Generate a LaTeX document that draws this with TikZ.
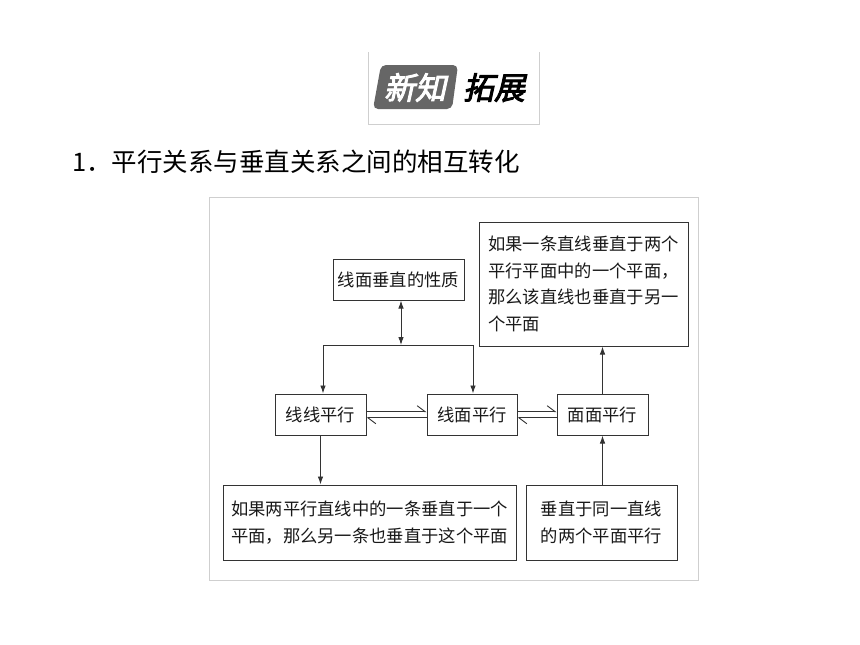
\documentclass[tikz,border=0pt]{standalone}
\usepackage{fontspec}
\usetikzlibrary{arrows.meta}
\newfontfamily\cjk{Noto Sans CJK SC}
\newfontfamily\badgefont[FakeSlant=0.22,FakeBold=3]{Noto Sans CJK SC}
\definecolor{linec}{HTML}{333333}
\definecolor{framec}{HTML}{CFCFCF}
\definecolor{badgec}{HTML}{666666}
\tikzset{
  box/.style={draw=linec, line width=1pt, inner sep=0pt, text=black!90,
    font=\cjk\fontsize{17.3}{26.5}\selectfont},
  conn/.style={draw=linec, line width=0.9pt},
  tip/.style={-{Latex[length=8pt,width=5.5pt]}},
  harp/.style={-{Straight Barb[left,length=8pt,width=12pt]}},
}
\begin{document}
\begin{tikzpicture}[x=1pt,y=-1pt]
\useasboundingbox (0,0) rectangle (860,645);
\fill[white] (0,0) rectangle (860,645);
% header badge
\draw[framec, line width=1pt] (368,52) -- (368,124) -- (539,124) -- (539,52);
\fill[badgec, rounded corners=5pt] (381,65) -- (458,65) -- (452,109) -- (373,109) -- cycle;
\node[text=white, font=\badgefont\fontsize{31}{31}\selectfont] (xz) at (415,87.5) {新知};
\node[text=black, font=\badgefont\fontsize{31}{31}\selectfont] (tz) at (494,87.5) {拓展};
% title
\node[anchor=west, inner sep=0pt, font=\cjk\fontsize{25.5}{25.5}\selectfont] (title) at (72,162) {1．平行关系与垂直关系之间的相互转化};
% diagram frame
\draw[framec, line width=1pt] (209,197) rectangle (698,580);
% boxes
\node[box, minimum width=131pt, minimum height=41pt] (prop) at (398.5,279.5) {线面垂直的性质};
\node[box, minimum width=91pt, minimum height=41pt] (ll) at (320.5,414.5) {线线平行};
\node[box, minimum width=90pt, minimum height=41pt] (lm) at (472,414.5) {线面平行};
\node[box, minimum width=91pt, minimum height=41pt] (mm) at (602.5,414.5) {面面平行};
\node[box, minimum width=209pt, minimum height=124pt, align=left] (tr) at (583.5,284)
  {如果一条直线垂直于两个\\平行平面中的一个平面，\\那么该直线也垂直于另一\\个平面};
\node[box, minimum width=293pt, minimum height=75pt, align=left] (bl) at (369.5,522.5)
  {如果两平行直线中的一条垂直于一个\\平面，那么另一条也垂直于这个平面};
\node[box, minimum width=151pt, minimum height=75pt, align=center] (br) at (601.5,522.5)
  {垂直于同一直线\\的两个平面平行};
% connectors
\coordinate (j) at (401,345);
\coordinate (jl) at (323,345);
\coordinate (jr) at (473,345);
\draw[conn] (jl) -- (jr);
\draw[conn, {Latex[length=8pt,width=5.5pt]}-{Latex[length=8pt,width=5.5pt]}] (prop.south -| j) -- (j);
\draw[conn, tip] (jl) -- (jl |- ll.north);
\draw[conn, tip] (jr) -- (jr |- lm.north);
\draw[conn, tip] (ll.south) -- (ll.south |- bl.north);
\draw[conn, tip] (mm.south |- br.north) -- (mm.south);
\draw[conn, tip] (mm.north) -- (mm.north |- tr.south);
\draw[conn, harp] ([yshift=2.8pt]ll.east) -- ([yshift=2.8pt]lm.west);
\draw[conn, harp] ([yshift=-3.2pt]lm.west) -- ([yshift=-3.2pt]ll.east);
\draw[conn, harp] ([yshift=2.8pt]lm.east) -- ([yshift=2.8pt]mm.west);
\draw[conn, harp] ([yshift=-3.2pt]mm.west) -- ([yshift=-3.2pt]lm.east);
\end{tikzpicture}
\end{document}
